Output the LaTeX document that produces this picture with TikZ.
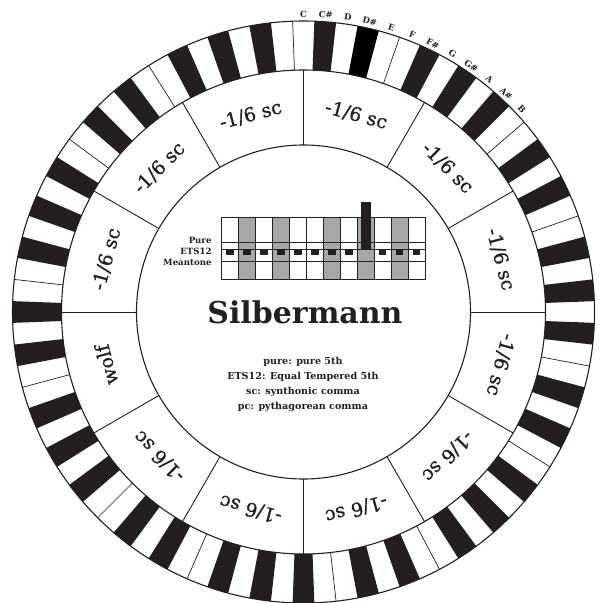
\documentclass[tikz,border=0pt]{standalone}
\usepackage{fontspec}
\setmainfont{DejaVu Serif}
\newfontfamily\heavyserif[FakeBold=1.0]{DejaVu Serif}
\definecolor{keyblack}{HTML}{231F20}
\definecolor{colgray}{HTML}{A7A7A7}
\tikzset{
  ring/.style={draw=keyblack, line width=1.1pt},
  divider/.style={draw=keyblack, line width=0.9pt},
  sectorlabel/.style={font=\heavyserif\fontsize{19}{19}\selectfont, text=keyblack, inner sep=0pt},
  notelabel/.style={font=\bfseries\fontsize{8.5}{8.5}\selectfont, text=keyblack, inner sep=0pt},
  rowlabel/.style={font=\bfseries\fontsize{8.6}{8.6}\selectfont, text=keyblack, inner sep=0pt, anchor=base east},
  legend/.style={font=\bfseries\fontsize{9.6}{9.6}\selectfont, text=keyblack, inner sep=0pt, anchor=base},
  gridline/.style={draw=keyblack, line width=0.8pt}
}
\begin{document}
\begin{tikzpicture}[x=1pt,y=1pt]
\useasboundingbox (-303.5,-291) rectangle (298.5,312);
\clip (-303.5,-291) rectangle (298.5,312);
\fill[white] (-303.5,-291) rectangle (298.5,312);
% keys
\foreach \i in {0,...,83}{
  \pgfmathtruncatemacro\n{mod(\i,12)}
  \pgfmathsetmacro\sa{90-(\i-0.5)*4.2857143}
  \pgfmathsetmacro\ea{90-(\i+0.5)*4.2857143}
  \ifnum\n=1 \def\isblack{1}\else\ifnum\n=3 \def\isblack{1}\else\ifnum\n=6 \def\isblack{1}\else\ifnum\n=8 \def\isblack{1}\else\ifnum\n=10 \def\isblack{1}\else\def\isblack{0}\fi\fi\fi\fi\fi
  \ifnum\isblack=1
    \ifnum\i=3
      \fill[black] (\sa:242) arc[start angle=\sa, end angle=\ea, radius=242] -- (\ea:291) arc[start angle=\ea, end angle=\sa, radius=291] -- cycle;
    \else
      \fill[keyblack] (\sa:242) arc[start angle=\sa, end angle=\ea, radius=242] -- (\ea:291) arc[start angle=\ea, end angle=\sa, radius=291] -- cycle;
    \fi
  \fi
  \ifnum\n=4 \draw[divider, line width=0.7pt] (\ea:242) -- (\ea:291);\fi
  \ifnum\n=11 \draw[divider, line width=0.7pt] (\ea:242) -- (\ea:291);\fi
}
% circles
\draw[ring] (0,0) circle[radius=291];
\draw[ring] (0,0) circle[radius=242];
\draw[ring] (0,0) circle[radius=167];
% sector dividers
\foreach \k in {0,...,11}{
  \draw[divider] (\k*30:167) -- (\k*30:242);
}
% sector labels
\foreach \k in {0,...,11}{
  \pgfmathsetmacro\ang{15+30*\k}
  \pgfmathsetmacro\rot{\ang-90}
  \ifnum\k=6
    \node[sectorlabel, rotate=\rot] (s\k) at (\ang:204) {wolf};
  \else
    \node[sectorlabel, rotate=\rot] (s\k) at (\ang:204) {-1/6 sc};
  \fi
}
% note labels
\foreach \nm [count=\j from 0] in {C,C\#,D,D\#,E,F,F\#,G,G\#,A,A\#,B}{
  \pgfmathsetmacro\ang{90-\j*4.2857143}
  \pgfmathsetmacro\rot{\ang-90}
  \node[notelabel, rotate=\rot] (n\j) at (\ang:298) {\nm};
}
% chart
\def\cw{16.94}
\foreach \c in {1,3,6,8,10}{
  \fill[colgray] (-81.8+\c*\cw,32.7) rectangle (-81.8+\c*\cw+\cw,94.3);
}
\foreach \c in {0,...,11}{
  \ifnum\c=8\else
    \fill[keyblack] (-81.8+\c*\cw+\cw/2-3.8,63) rectangle (-81.8+\c*\cw+\cw/2+3.8,57);
  \fi
}
\draw[gridline] (-81.8,32.7) rectangle (121.5,94.3);
\foreach \c in {1,...,11}{
  \draw[gridline] (-81.8+\c*\cw,32.7) -- (-81.8+\c*\cw,94.3);
}
\draw[gridline] (-81.8,70) -- (121.5,70);
\draw[gridline] (-81.8,63) -- (121.5,63);
\draw[gridline] (-81.8,51) -- (121.5,51);
\fill[keyblack] (57.5,63) rectangle (67.5,110.3);
\node[rowlabel] (lp) at (-91.8,68.5) {Pure};
\node[rowlabel] (le) at (-91.8,57.8) {ETS12};
\node[rowlabel] (lm) at (-91.8,47) {Meantone};
% title
\node[font=\bfseries\fontsize{30}{30}\selectfont, text=keyblack, inner sep=0pt, anchor=base] (title) at (1.5,-11) {Silbermann};
% legend
\node[legend] (g1) at (-0.5,-52) {pure: pure 5th};
\node[legend] (g2) at (-0.5,-67.3) {ETS12: Equal Tempered 5th};
\node[legend] (g3) at (-0.5,-82) {sc: synthonic comma};
\node[legend] (g4) at (-0.5,-97.3) {pc: pythagorean comma};
\end{tikzpicture}
\end{document}
